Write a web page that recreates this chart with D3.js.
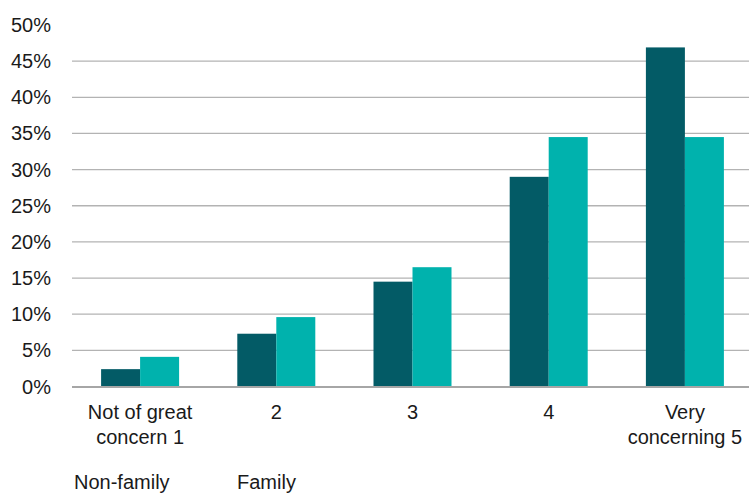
<!DOCTYPE html>
<html><head><meta charset="utf-8">
<script src="https://cdn.jsdelivr.net/npm/d3@7"></script>
<style>body{margin:0;background:#fff}svg{display:block}text{font-family:"Liberation Sans",Arial,sans-serif;fill:#1a1a1a}</style>
</head><body><svg id="c" width="749" height="494"></svg>
<script>
const categories = [["Not of great","concern 1"],["2"],["3"],["4"],["Very","concerning 5"]];
const seriesNames = ["Non-family","Family"];
const nonFamily = [2.4, 7.3, 14.5, 29.0, 46.9];
const family = [4.1, 9.6, 16.5, 34.5, 34.5];
const yTicks = [0,5,10,15,20,25,30,35,40,45,50];
const colors = ["#035b66","#00b2ad"];

(function(){
const svg = d3.select("#c");
const mLeft = 72, mRight = 749, mTop = 25, mBottom = 386.5;
const x = d3.scaleBand().domain(d3.range(categories.length)).range([mLeft, 753]).paddingInner(0).paddingOuter(0);
const y = d3.scaleLinear().domain([0,50]).range([mBottom, mTop]);
const barW = 39;

svg.append("g").selectAll("line").data(yTicks.filter(t=>t>0 && t<50)).join("line")
  .attr("x1", mLeft).attr("x2", mRight).attr("y1", d=>y(d)).attr("y2", d=>y(d))
  .attr("stroke", "#b3b3b3").attr("stroke-width", 1.3);

svg.append("g").selectAll("text").data(yTicks).join("text")
  .attr("x", 51).attr("y", d=>y(d)).attr("dy","0.35em").attr("text-anchor","end")
  .style("font-size","20px").text(d=>d+"%");

const series = [nonFamily, family];
series.forEach((vals, si) => {
  svg.append("g").selectAll("rect").data(vals).join("rect")
    .attr("x", (d,i)=> x(i) + x.bandwidth()/2 - barW + si*barW)
    .attr("width", barW)
    .attr("y", d=>y(d)).attr("height", d=>y(0)-y(d))
    .attr("fill", colors[si]);
});

svg.append("line").attr("x1", mLeft).attr("x2", mRight).attr("y1", y(0)+0.5).attr("y2", y(0)+0.5)
  .attr("stroke","#a6a6a6").attr("stroke-width",2);

const xl = svg.append("g").selectAll("text").data(categories).join("text")
  .attr("text-anchor","middle").style("font-size","20px");
xl.each(function(lines,i){
  const t = d3.select(this);
  lines.forEach((ln,j)=>{
    t.append("tspan").attr("x", x(i)+x.bandwidth()/2).attr("y", 419 + j*25).text(ln);
  });
});

const legX = [74, 237];
svg.append("g").selectAll("text").data(seriesNames).join("text")
  .attr("x",(d,i)=>legX[i]).attr("y",489).style("font-size","20px").text(d=>d);
})();
</script></body></html>
